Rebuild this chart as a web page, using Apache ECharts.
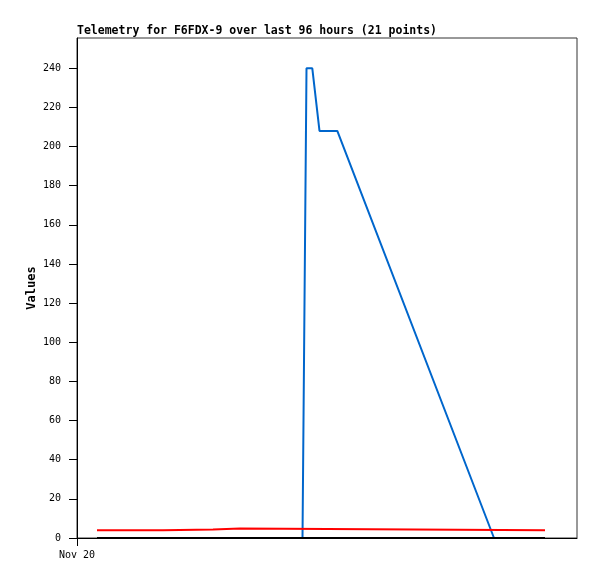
<!DOCTYPE html>
<html><head><meta charset="utf-8">
<script src="https://cdn.jsdelivr.net/npm/echarts@6/dist/echarts.min.js"></script>
<style>html,body{margin:0;padding:0;background:#fff}#c{width:597px;height:579px}</style>
</head><body><div id="c"></div>
<script>
// x values are hours since the start of the 96-hour window shown
const titleText = 'Telemetry for F6FDX-9 over last 96 hours (21 points)';
const xLabel = 'Nov 20';
const yTicks = [0,20,40,60,80,100,120,140,160,180,200,220,240];

const blueX = [4, 45.1, 45.9, 47.06, 48.5, 52.06, 83.4, 93.6];
const blueY = [0, 0, 240, 240, 208, 208, 0, 0];

const redX = [4, 17.2, 17.6, 27.2, 27.4, 32.6, 33, 93.6];
const redY = [3.9, 3.9, 4.4, 4.4, 4.9, 4.9, 3.9, 3.9];

const blackX = [4, 93.6];
const blackY = [0, 0];

const zip = (a,b) => a.map((v,i)=>[v,b[i]]);
const font = '"DejaVu Sans Mono", "Liberation Mono", monospace';

const chart = echarts.init(document.getElementById('c'), null, {renderer:'canvas'});
chart.setOption({
  animation: false,
  backgroundColor: '#fff',
  title: {
    text: titleText, left: 77, top: 25, padding: 0,
    textStyle: {fontFamily: font, fontSize: 11.5, fontWeight: 'bold', color: '#000'}
  },
  grid: {left: 77, right: 20, top: 38, bottom: 41, show: true, borderColor: '#333', borderWidth: 1, backgroundColor: '#fff'},
  xAxis: {
    type: 'value', min: 0, max: 100,
    axisLine: {show: true, onZero: false, lineStyle: {color: '#000', width: 1}},
    axisTick: {show: true, length: 8, lineStyle: {color: '#000'}, customValues: [0]},
    axisLabel: {customValues: [0], formatter: () => xLabel, fontFamily: font, fontSize: 10, color: '#000', margin: 12},
    splitLine: {show: false}
  },
  yAxis: {
    type: 'value', min: 0, max: 255.5,
    name: 'Values', nameLocation: 'middle', nameRotate: 90, nameGap: 39, nameMoveOverlap: false,
    nameTextStyle: {fontFamily: font, fontSize: 12, fontWeight: 'bold', color: '#000'},
    axisLine: {show: true, lineStyle: {color: '#000', width: 1}},
    axisTick: {show: true, length: 8, lineStyle: {color: '#000'}, customValues: yTicks},
    axisLabel: {customValues: yTicks, fontFamily: font, fontSize: 10, color: '#000', margin: 16},
    splitLine: {show: false}
  },
  series: [
    {type: 'line', data: zip(blueX, blueY), showSymbol: false, lineStyle: {color: '#0066cc', width: 2}, itemStyle:{color:'#0066cc'}},
    {type: 'line', data: zip(redX, redY), showSymbol: false, lineStyle: {color: '#ff0000', width: 2}, itemStyle:{color:'#ff0000'}},
    {type: 'line', data: zip(blackX, blackY), showSymbol: false, lineStyle: {color: '#000000', width: 2}, itemStyle:{color:'#000'}}
  ]
});
</script></body></html>
